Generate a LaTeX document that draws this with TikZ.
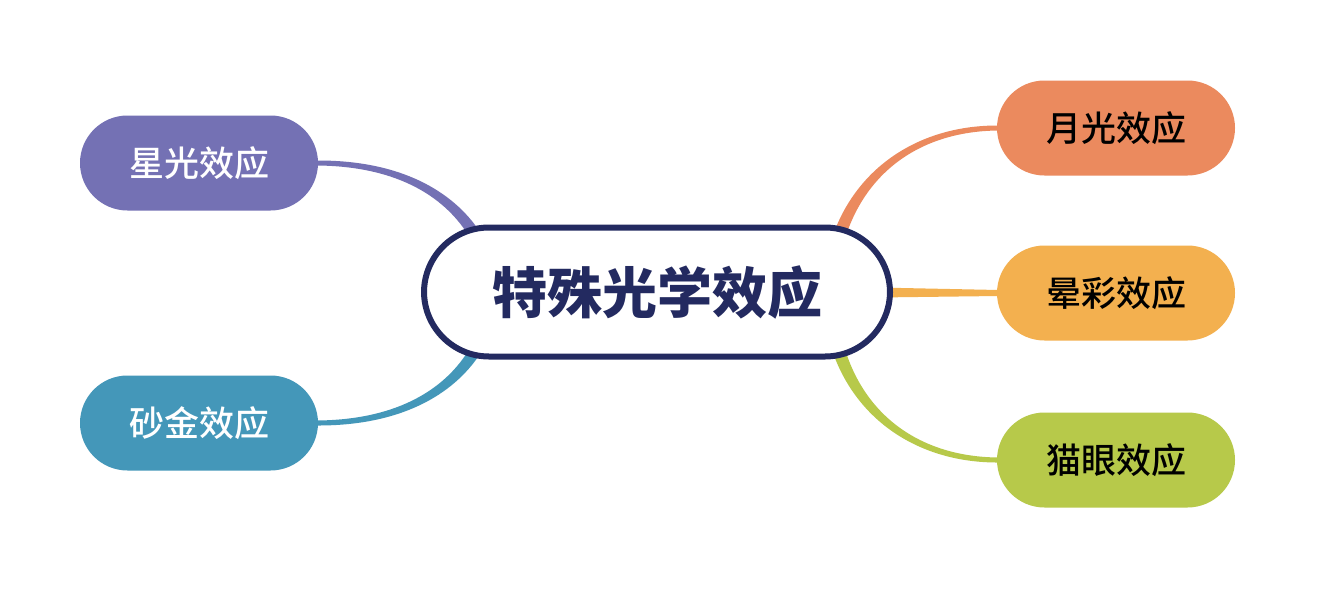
\documentclass[tikz,border=0pt]{standalone}
\usepackage{fontspec}
\newfontfamily\cjk{Noto Sans CJK SC}
\newfontfamily\cjkm{Noto Sans CJK SC Medium}
\usetikzlibrary{calc}
\definecolor{cpurple}{HTML}{7471B4}
\definecolor{cteal}{HTML}{4497B9}
\definecolor{corange}{HTML}{EB8A5E}
\definecolor{cyellow}{HTML}{F3B04F}
\definecolor{cgreen}{HTML}{B7C94A}
\definecolor{cnavy}{HTML}{232A60}
\tikzset{
  leaf/.style={rectangle, rounded corners=47.5pt, minimum width=238pt, minimum height=95pt, inner sep=0pt, font=\cjkm\fontsize{35}{40}\selectfont},
  hub/.style={rectangle, rounded corners=65pt, minimum width=466pt, minimum height=129pt, inner sep=0pt, draw=cnavy, line width=6pt, fill=white, text=cnavy, font=\cjk\bfseries\fontsize{55}{60}\selectfont},
}
\begin{document}
\begin{tikzpicture}[x=1pt,y=-1pt]
\useasboundingbox (0,0) rectangle (1317,592);
\fill[white] (0,0) rectangle (1317,592);
\coordinate (c) at (657,292);
\node[leaf, fill=cpurple, text=white] (xg) at (199,163) {星光效应};
\node[leaf, fill=cteal, text=white] (sj) at (199,423) {砂金效应};
\node[leaf, fill=corange, text=black] (yg) at (1116,128) {月光效应};
\node[leaf, fill=cyellow, text=black] (yc) at (1116,293) {晕彩效应};
\node[leaf, fill=cgreen, text=black] (my) at (1116,460) {猫眼效应};
% connectors (tapered)
\fill[cpurple] ($(xg.east)+(-2,-2.5)$) .. controls ($(xg.east)+(82,-3)$) and ($(c)+(-204,-101)$) .. ($(c)+(-177,-60)$)
  -- ($(c)+(-187,-54)$) .. controls ($(c)+(-210,-93)$) and ($(xg.east)+(82,3)$) .. ($(xg.east)+(-2,2.5)$) -- cycle;
\fill[cteal] ($(sj.east)+(-2,2.5)$) .. controls ($(sj.east)+(82,3)$) and ($(c)+(-204,103)$) .. ($(c)+(-177,62)$)
  -- ($(c)+(-187,56)$) .. controls ($(c)+(-210,95)$) and ($(sj.east)+(82,-3)$) .. ($(sj.east)+(-2,-2.5)$) -- cycle;
\fill[corange] ($(yg.west)+(2,-2.5)$) .. controls ($(yg.west)+(-77,-3)$) and ($(c)+(199,-125)$) .. ($(c)+(175,-54)$)
  -- ($(c)+(187,-50)$) .. controls ($(c)+(207,-119)$) and ($(yg.west)+(-77,3)$) .. ($(yg.west)+(2,2.5)$) -- cycle;
\fill[cgreen] ($(my.west)+(2,2.5)$) .. controls ($(my.west)+(-77,3)$) and ($(c)+(199,129)$) .. ($(c)+(175,58)$)
  -- ($(c)+(187,54)$) .. controls ($(c)+(207,123)$) and ($(my.west)+(-77,-3)$) .. ($(my.west)+(2,-2.5)$) -- cycle;
\fill[cyellow] ($(c)+(220,-4.5)$) -- ($(yc.west)+(2,-3)$) -- ($(yc.west)+(2,3)$) -- ($(c)+(220,5.5)$) -- cycle;
\node[hub] (hub) at (c) {特殊光学效应};
\end{tikzpicture}
\end{document}
